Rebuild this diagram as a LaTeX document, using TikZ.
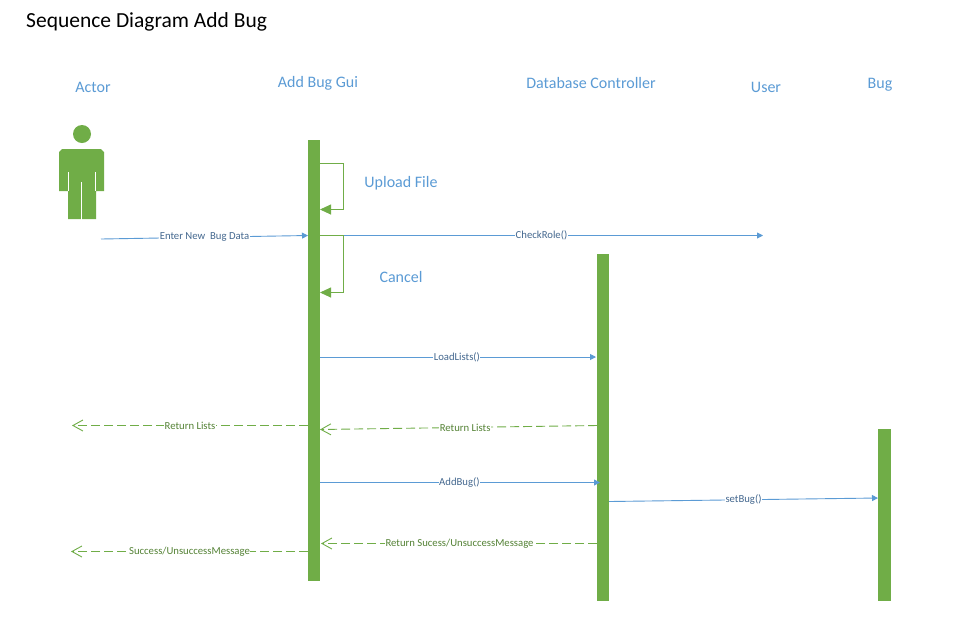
\documentclass[tikz,border=0pt]{standalone}
\usepackage{fontspec}
\setmainfont{Carlito}
\usetikzlibrary{arrows.meta}
\definecolor{grn}{HTML}{70AD47}
\definecolor{blu}{HTML}{5B9BD5}
\definecolor{blutxt}{HTML}{44688F}
\definecolor{grntxt}{HTML}{548235}
\tikzset{
  x=1pt,y=-1pt,
  lifebar/.style={fill=grn,draw=none,minimum width=0pt,minimum height=0pt,inner sep=0pt},
  headtext/.style={text=blu,font=\fontsize{16}{19}\selectfont,inner sep=0pt,anchor=center},
  notetext/.style={text=blu,font=\fontsize{16}{19}\selectfont,inner sep=0pt,anchor=center},
  call/.style={draw=blu,line width=0.9pt,-{Triangle[length=6pt,width=6pt,fill=blu]}},
  selfcall/.style={draw=grn,line width=0.9pt,-{Triangle[length=11pt,width=10pt,fill=grn]}},
  reply/.style={draw=grn,line width=0.9pt,dash pattern=on 9pt off 4pt,-{Straight Barb[length=10pt,width=11pt,line width=0.9pt]}},
  bluelab/.style={fill=white,text=blutxt,font=\fontsize{10.7}{13}\selectfont,inner sep=0.5pt},
  greenlab/.style={fill=white,text=grntxt,font=\fontsize{10.7}{13}\selectfont,inner sep=0.5pt},
}
\begin{document}
\begin{tikzpicture}
\useasboundingbox (0,0) rectangle (968,622);
\fill[white] (0,0) rectangle (968,622);
% title and headers
\node[anchor=west,inner sep=0pt,font=\fontsize{21.5}{26}\selectfont] (title) at (26,21.5) {Sequence Diagram Add Bug};
\node[headtext] (hActor) at (93,87.5) {Actor};
\node[headtext] (hGui) at (318,83.5) {Add Bug Gui};
\node[headtext] (hDb) at (591,83) {Database Controller};
\node[headtext] (hUser) at (766,87.5) {User};
\node[headtext] (hBug) at (880,85) {Bug};
% actor figure
\fill[grn] (82,134) circle (9);
\fill[grn] (62,149) -- (101,149) -- (104,152) -- (104,191) -- (96,191) -- (96,219)
  -- (68,219) -- (68,191) -- (59,191) -- (59,152) -- cycle;
\draw[white,line width=0.7pt] (81.7,182) -- (81.7,219.5);
\draw[white,line width=0.5pt] (68,172) -- (68,191);
\draw[white,line width=0.5pt] (95.7,172) -- (95.7,191);
% named points
\coordinate (aStart) at (101,239);
\coordinate (aEnd) at (308,235.5);
\coordinate (uFrom) at (320,235.5);
\coordinate (uEnd) at (763,235.5);
\coordinate (s1a) at (320,163.5);
\coordinate (s1b) at (343.5,163.5);
\coordinate (s1c) at (343.5,209.5);
\coordinate (s1d) at (320,209.5);
\coordinate (s2a) at (320,235.5);
\coordinate (s2b) at (343.5,235.5);
\coordinate (s2c) at (343.5,292.5);
\coordinate (s2d) at (320,292.5);
\coordinate (llA) at (320,357);
\coordinate (llB) at (596,357);
\coordinate (rl1A) at (597,425.5);
\coordinate (rl1B) at (320,429.5);
\coordinate (rl2A) at (308,425.5);
\coordinate (rl2B) at (72,425.5);
\coordinate (abA) at (320,482.5);
\coordinate (abB) at (600,482.5);
\coordinate (sbA) at (609,501.5);
\coordinate (sbB) at (878,498);
\coordinate (rs1A) at (597,543.5);
\coordinate (rs1B) at (321,543.5);
\coordinate (rs2A) at (308,551.5);
\coordinate (rs2B) at (71,551.5);
% connectors drawn below the bars
\draw[call] (aStart) -- node[bluelab,pos=.5] (lEnter) {Enter New\ \ Bug Data} (aEnd);
% lifeline bars
\node[lifebar,minimum width=12pt,minimum height=441pt] (bar1) at (314,360.5) {};
\node[lifebar,minimum width=12pt,minimum height=347pt] (bar2) at (603,427.5) {};
\node[lifebar,minimum width=13pt,minimum height=172pt] (bar3) at (884.5,515) {};
% connectors
\draw[call] (uFrom) -- node[bluelab,pos=.5] (lCheck) {CheckRole()} (uEnd);
\draw[selfcall] (s1a) -- (s1b) -- (s1c) -- (s1d);
\draw[selfcall] (s2a) -- (s2b) -- (s2c) -- (s2d);
\draw[call] (llA) -- node[bluelab,pos=.496] (lLoad) {LoadLists()} (llB);
\draw[reply] (rl1A) -- node[greenlab,pos=.476] (lRet1) {Return Lists} (rl1B);
\draw[reply] (rl2A) -- node[greenlab,pos=.5] (lRet2) {Return Lists} (rl2B);
\draw[call] (abA) -- node[bluelab,pos=.498] (lAdd) {AddBug()} (abB);
\draw[call] (sbA) -- node[bluelab,pos=.5] (lSet) {setBug()} (sbB);
\draw[reply] (rs1A) -- node[greenlab,pos=.498] (lRs1) {Return Sucess/UnsuccessMessage} (rs1B);
\draw[reply] (rs2A) -- node[greenlab,pos=.5] (lRs2) {Success/UnsuccessMessage} (rs2B);
% notes
\node[notetext] (nUpload) at (401,183) {Upload File};
\node[notetext] (nCancel) at (401,277) {Cancel};
\end{tikzpicture}
\end{document}
